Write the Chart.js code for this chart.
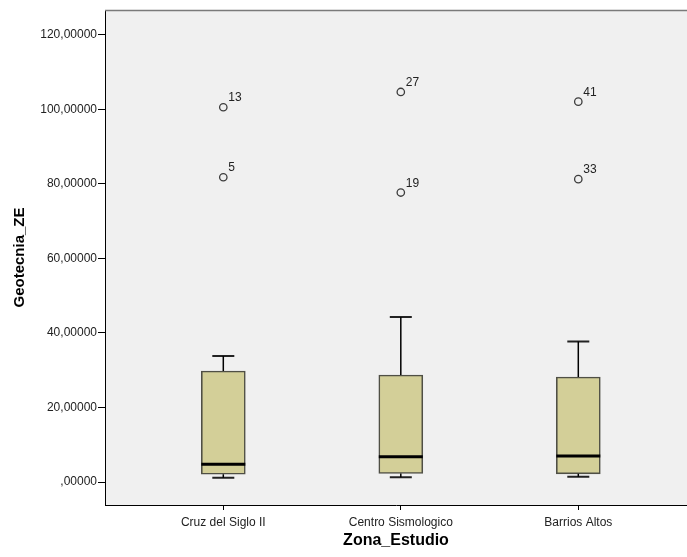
<!DOCTYPE html>
<html>
<head>
<meta charset="utf-8">
<script src="https://cdn.jsdelivr.net/npm/chart.js@4/dist/chart.umd.min.js"></script>
<style>
html,body{margin:0;padding:0;background:#fff;overflow:hidden;}
canvas{display:block;}
</style>
</head>
<body>
<canvas id="c" width="687" height="557"></canvas>
<script>
// ---- data ----
const categories = ['Cruz del Siglo II', 'Centro Sismologico', 'Barrios Altos'];
const whiskerLow = [1.15, 1.26, 1.4];
const q1 = [2.1, 2.3, 2.2];
const medians = [4.75, 6.8, 7.0];
const q3 = [29.8, 28.7, 28.2];
const whiskerHigh = [33.8, 44.3, 37.7];
const outlierValues = [[81.8, 100.6], [77.7, 104.7], [81.3, 102.1]];
const outlierLabels = [['5', '13'], ['19', '27'], ['33', '41']];
const yTickValues = [0, 20, 40, 60, 80, 100, 120];
const yTickLabels = [',00000', '20,00000', '40,00000', '60,00000', '80,00000', '100,00000', '120,00000'];

// ---- styling / geometry ----
const FONT = '"Liberation Sans", Arial, sans-serif';
const PX_PER_X = 177.5;           // pixels per category unit
const capHalf = 11 / PX_PER_X;    // whisker cap half width
const medHalf = 22 / PX_PER_X;    // median half width

const xPos = categories.map((_, i) => i + 1);

const boxData = xPos.map((x, i) => ({ x: x, y: [q1[i], q3[i]] }));
const medianData = [];
const whiskerData = [];
const capData = [];
const outlierData = [];
const outlierText = [];
xPos.forEach((x, i) => {
  medianData.push({ x: x - medHalf, y: medians[i] }, { x: x + medHalf, y: medians[i] }, { x: x, y: null });
  whiskerData.push({ x: x, y: q3[i] }, { x: x, y: whiskerHigh[i] }, { x: x, y: null });
  whiskerData.push({ x: x, y: q1[i] }, { x: x, y: whiskerLow[i] }, { x: x, y: null });
  capData.push({ x: x - capHalf, y: whiskerHigh[i] }, { x: x + capHalf, y: whiskerHigh[i] }, { x: x, y: null });
  capData.push({ x: x - capHalf, y: whiskerLow[i] }, { x: x + capHalf, y: whiskerLow[i] }, { x: x, y: null });
  outlierValues[i].forEach((v, j) => {
    outlierData.push({ x: x, y: v });
    outlierText.push(outlierLabels[i][j]);
  });
});

const plotBg = {
  id: 'plotBg',
  beforeDraw(chart) {
    const { ctx, chartArea: a } = chart;
    ctx.save();
    ctx.fillStyle = '#f0f0f0';
    ctx.fillRect(a.left, a.top, a.right - a.left, a.bottom - a.top);
    ctx.restore();
  },
  afterDraw(chart) {
    const { ctx, chartArea: a } = chart;
    ctx.save();
    ctx.strokeStyle = '#7a7a7a';
    ctx.lineWidth = 1.5;
    ctx.beginPath();
    ctx.moveTo(a.left, a.top + 0.5);
    ctx.lineTo(a.right, a.top + 0.5);
    ctx.stroke();
    ctx.restore();
  }
};

const outlierLabelPlugin = {
  id: 'outlierLabels',
  afterDatasetsDraw(chart) {
    const { ctx } = chart;
    const meta = chart.getDatasetMeta(1);
    ctx.save();
    ctx.font = '12px ' + FONT;
    ctx.fillStyle = '#222';
    ctx.textAlign = 'left';
    ctx.textBaseline = 'alphabetic';
    meta.data.forEach((el, k) => {
      ctx.fillText(outlierText[k], el.x + 5, el.y - 6);
    });
    ctx.restore();
  }
};

new Chart(document.getElementById('c'), {
  type: 'bar',
  data: {
    datasets: [
      { type: 'line', data: medianData, borderColor: '#000', borderWidth: 3, pointRadius: 0, spanGaps: false, fill: false, order: 0 },
      { type: 'scatter', data: outlierData, pointStyle: 'circle', pointRadius: 3.7, borderColor: '#3c3c3c', borderWidth: 1.3, backgroundColor: 'rgba(0,0,0,0)', order: 0 },
      { type: 'line', data: whiskerData, borderColor: '#000', borderWidth: 1.5, pointRadius: 0, spanGaps: false, fill: false, order: 1 },
      { type: 'line', data: capData, borderColor: '#222', borderWidth: 2, pointRadius: 0, spanGaps: false, fill: false, order: 1 },
      { type: 'bar', data: boxData, backgroundColor: '#d3cf98', borderColor: '#4f4f45', borderWidth: 1.6, borderSkipped: false, barThickness: 44, order: 2 }
    ]
  },
  options: {
    responsive: false,
    animation: false,
    events: [],
    layout: { autoPadding: false, padding: { top: 10, right: 0, bottom: 0, left: 0 } },
    plugins: { legend: { display: false }, tooltip: { enabled: false } },
    scales: {
      x: {
        type: 'linear',
        offset: false,
        min: 0.3335,
        max: 3.6124,
        afterBuildTicks: s => { s.ticks = xPos.map(v => ({ value: v })); },
        afterFit: s => { s.height = 52; s.paddingRight = 0; s.paddingLeft = 0; },
        ticks: {
          autoSkip: false, maxRotation: 0, padding: 5,
          color: '#222', font: { family: FONT, size: 12 },
          callback: (v, i) => categories[i]
        },
        grid: { offset: false, drawOnChartArea: false, drawTicks: true, tickLength: 5, color: '#000' },
        border: { display: true, color: '#000', width: 1 },
        title: { display: true, text: 'Zona_Estudio', color: '#000', font: { family: FONT, size: 16, weight: 'bold' }, padding: { top: 0, bottom: 7 } }
      },
      y: {
        type: 'linear',
        min: -6.17,
        max: 126.7,
        afterBuildTicks: s => { s.ticks = yTickValues.map(v => ({ value: v })); },
        afterFit: s => { s.width = 105; },
        ticks: {
          autoSkip: false, padding: 1,
          color: '#222', font: { family: FONT, size: 12 },
          callback: (v, i) => yTickLabels[i]
        },
        grid: { drawOnChartArea: false, drawTicks: true, tickLength: 7, color: '#000' },
        border: { display: true, color: '#000', width: 1 },
        title: { display: true, text: 'Geotecnia_ZE', color: '#000', font: { family: FONT, size: 15, weight: 'bold' }, padding: { top: 11, bottom: 0 } }
      }
    }
  },
  plugins: [plotBg, outlierLabelPlugin]
});
</script>
</body>
</html>
